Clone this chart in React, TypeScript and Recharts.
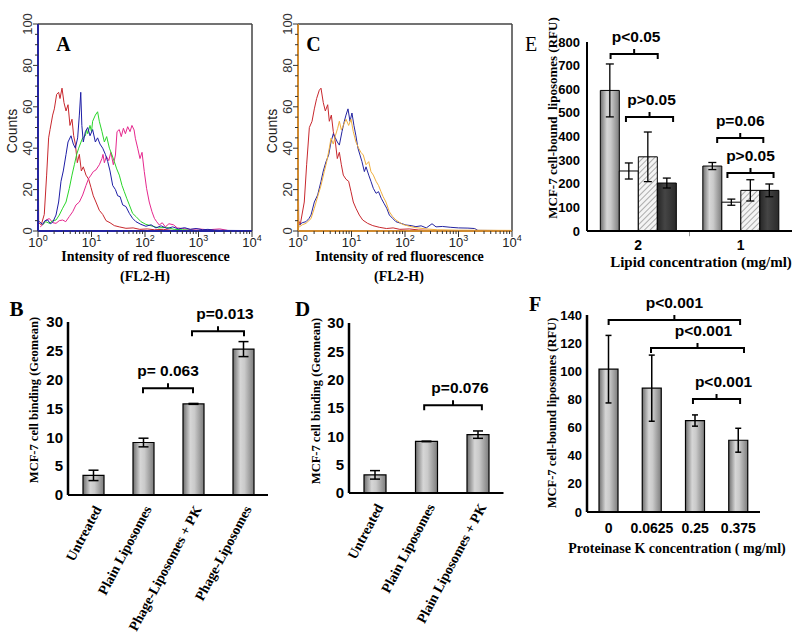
import React from 'react';
import { LineChart, Line, BarChart, Bar, XAxis, YAxis, ErrorBar, ReferenceLine } from 'recharts';

const SANS = '"Liberation Sans", Arial, Helvetica, sans-serif';
const SERIF = '"Liberation Serif", "Times New Roman", Times, serif';

// ---- A / C: flow cytometry histograms, [FL2-H intensity, counts]
const aRed = [[1,0],[1,56],[1.03,4],[1.15,3],[1.31,8],[1.45,27],[1.58,45],[1.68,49],[1.88,56],[2.02,59],[2.23,66],[2.43,67],[2.58,64],[2.81,69],[3.06,62],[3.34,58],[3.64,61],[3.96,51],[4.32,54],[4.64,46],[4.99,42],[5.43,33],[5.93,37],[6.46,29],[7.03,31],[7.89,27],[8.85,25],[9.79,21],[10.8,17],[12.1,14],[14,10],[16.2,8],[18.7,5],[22.2,4],[26.7,2.6],[33,2],[44,1.3],[60,1.5],[80,0.8],[110,1],[150,0.6],[220,0.8],[320,0.3],[500,0]];
const aBlue = [[1,4],[1.06,4.5],[1.22,3.2],[1.35,5],[1.52,5.3],[1.7,3.5],[1.88,4.2],[2.17,7.7],[2.43,14],[2.69,24],[2.97,29],[3.34,37],[3.64,43],[4.14,46],[4.57,42],[4.99,40],[5.51,45],[5.93,56],[6.3,67],[6.6,51],[7.03,43],[7.68,48],[8.5,50],[9.38,46],[10.5,49],[11.8,43],[13,45],[14.4,42],[16.2,40],[18.2,37],[20.1,33.5],[22.2,29],[24.9,22],[28,20],[30.9,17],[34.2,16.6],[38.3,12.6],[44,11.8],[51,8.5],[58.7,6.1],[67.7,4.5],[84,3.2],[104,2.3],[130,3],[160,1.5],[200,2.5],[260,1.2],[330,2],[420,1],[550,1.6],[700,0.8],[900,1.2],[1200,0.6],[1500,0.8],[2000,0.4],[3000,0.3],[10000,0.2]];
const aGreen = [[1.22,3],[1.4,4.5],[1.63,3.7],[1.9,5],[2.17,5.3],[2.5,7.7],[2.89,11],[3.34,14],[3.85,20.6],[4.32,27],[4.78,32],[5.28,37],[5.76,40],[6.37,43],[6.84,45],[7.68,46],[8.1,49],[8.5,47],[9.38,51],[10,48],[10.5,53],[11.8,56],[13,57.6],[14,53],[15.7,48],[17.4,43],[19.2,45.6],[21.6,40],[24.2,36.7],[26.7,33.5],[29.6,30],[33.1,27],[37.2,22],[41,19],[45.5,15.8],[51,12.6],[58.7,8.5],[67.7,7],[84,4.5],[104,3.2],[139,2.3],[180,1.5],[250,1.8],[350,0.8],[500,0.6],[800,0.3]];
const aMagenta = [[1.1,2],[1.22,3],[1.41,5.3],[1.63,6],[1.9,4],[2.17,3.7],[2.5,5],[2.89,5.3],[3.3,4.5],[3.85,7],[4.45,9.3],[5.13,12.6],[5.93,14],[6.84,17.4],[7.89,22],[8.85,25.4],[9.8,27],[10.8,28.7],[12.1,29.5],[14,32],[15.7,35],[16.4,37],[17.4,33],[19,36],[21,34],[23,38],[25.6,32],[28,36.7],[30,48],[33,49],[36,45.6],[39.5,49.6],[43,47],[47.5,50.4],[52.5,48],[57,51],[62.5,48.8],[66,44.8],[73,40],[80.6,35],[88,38],[97,28.7],[107,20.6],[120,14],[135,9.3],[150,6.1],[165,4.5],[185,2.9],[210,4],[240,2],[280,3.5],[340,3],[400,1.5],[500,1.2],[700,0.8],[1000,1],[1500,0.6],[2500,1],[3500,0.3]];

const cRed = [[1,0],[1,56],[1.03,5],[1.1,3],[1.31,14],[1.45,32],[1.63,50],[1.83,53],[2.02,59],[2.23,64],[2.5,68],[2.69,69],[2.97,62],[3.24,58],[3.59,61],[3.85,53],[4.2,56],[4.57,48],[4.99,43],[5.43,35],[5.93,38],[6.46,32],[7.03,27],[7.89,25],[8.85,24],[9.8,19],[10.8,14],[12.1,11],[14,7.7],[16.2,5.3],[20,3.7],[25,2.6],[33,1.8],[45,1.2],[60,1.5],[80,0.8],[120,1],[180,0.5],[300,0.3],[500,0]];
const cBlue = [[1,3],[1.06,3],[1.2,4],[1.41,4.5],[1.6,6],[1.75,7.7],[2.02,14],[2.33,17.4],[2.69,24],[2.97,29],[3.34,33.5],[3.74,36.7],[4.14,43],[4.57,47],[4.99,45],[5.43,43],[5.93,41.5],[6.64,48],[7.34,53],[7.89,56],[8.6,59],[9.38,53],[10.2,57],[11.1,51],[12.1,46],[13.2,40],[14.4,36.7],[15.7,33.5],[17.4,28.7],[18.7,31],[21,27],[23.1,24],[25.6,20.6],[28.8,18.2],[32,19],[36,15.8],[40.4,13.4],[45.5,11],[51,7.7],[58.7,6.1],[67.7,4.5],[84,3.7],[104,2.9],[130,2.6],[160,2.1],[200,2.5],[250,1.5],[320,3.5],[380,2],[500,2.2],[700,1.8],[1000,1.5],[1500,1.4],[2000,1.2],[2300,0.3],[10000,0.2]];
const cOrange = [[1,0],[1,40],[1.03,2],[1.06,2],[1.2,3],[1.41,3.7],[1.75,6],[2.02,11],[2.33,16.6],[2.69,22],[3.1,28.7],[3.44,33.5],[3.85,40],[4.14,44.8],[4.57,42],[4.99,46],[5.51,49.6],[5.93,53],[6.46,48.8],[7.03,51],[7.89,54],[8.85,51],[9.8,54],[10.8,48],[12.1,43],[13.6,40],[15,38],[16.6,36.7],[18.7,32],[21,33.5],[23.1,28.7],[25.6,27],[28.8,24],[32,22],[35.6,19],[39,16.6],[44,14],[51,9.3],[58.7,7],[67.7,5.3],[90,3.2],[120,2.3],[160,1.6],[250,1],[400,0.6],[1000,0.4],[10000,0.3]];

const histDecades = [1, 10, 100, 1000];
const histMultipliers = [1, 2, 3, 4, 5, 6, 7, 8, 9];
const logTicks = [...histDecades.flatMap((d) => histMultipliers.map((m) => m * d)), 10000];
const countTicks = [0, 5, 10, 15, 20, 25, 30, 35, 40, 45, 50, 55, 60, 65, 70, 75, 80, 85, 90, 95, 100];

// ---- B
const bCats = ['Untreated', 'Plain Liposomes', 'Phage-Liposomes + PK', 'Phage-Liposomes'];
const bMeans = [3.4, 9.1, 15.8, 25.3];
const bErrs = [0.9, 0.75, 0.08, 1.3];
const bTicks = [0, 5, 10, 15, 20, 25, 30];
const bBrackets = [
  { x1: 1, x2: 2, y: 18.5, text: 'p= 0.063', dx: 0 },
  { x1: 1.98, x2: 3.02, y: 28.4, text: 'p=0.013', dx: 7 },
];

// ---- D
const dCats = ['Untreated', 'Plain Liposomes', 'Plain Liposomes + PK'];
const dMeans = [3.2, 9.1, 10.3];
const dErrs = [0.75, 0.05, 0.65];
const dTicks = [0, 5, 10, 15, 20, 25, 30];
const dBrackets = [{ x1: 0.96, x2: 2.08, y: 15.5, text: 'p=0.076', dx: 7 }];

// ---- E
const eCats = ['2', '1'];
const eGray = [595, 275];
const eGrayErr = [112, 15];
const eWhite = [254, 122];
const eWhiteErr = [34, 13];
const eHatch = [314, 172];
const eHatchErr = [105, 45];
const eDark = [203, 172];
const eDarkErr = [21, 27];
const eTicks = [0, 100, 200, 300, 400, 500, 600, 700, 800];
const eBrackets = [
  { x1: -0.27, x2: 0.19, y: 749, text: 'p<0.05', dx: 2 },
  { x1: -0.12, x2: 0.34, y: 483, text: 'p>0.05', dx: 2 },
  { x1: 0.77, x2: 1.22, y: 394, text: 'p=0.06', dx: 0 },
  { x1: 0.87, x2: 1.32, y: 245, text: 'p>0.05', dx: 0 },
];

// ---- F
const fCats = ['0', '0.0625', '0.25', '0.375'];
const fMeans = [101.5, 88, 65, 51];
const fErrs = [24, 23.5, 4, 8.5];
const fTicks = [0, 20, 40, 60, 80, 100, 120, 140];
const fBrackets = [
  { x1: 0, x2: 3.04, y: 136.5, text: 'p<0.001', dx: 0 },
  { x1: 0.98, x2: 3.13, y: 116.5, text: 'p<0.001', dx: 6 },
  { x1: 1.95, x2: 3.04, y: 80.3, text: 'p<0.001', dx: 7 },
];

const toPts = (arr: number[][]) => arr.map(([x, y]) => ({ x, y }));

const LogTick = ({ x, y, payload }: any) => {
  const p = Math.log10(payload.value);
  const major = Math.abs(p - Math.round(p)) < 1e-6;
  return (
    <g>
      <line x1={x} x2={x} y1={y} y2={y + (major ? 6 : 3)} stroke="#333" strokeWidth={1} />
      {major && (
        <text x={x} y={y + 16} textAnchor="middle" fontFamily={SANS} fontSize={13} fill="#222">
          <tspan>10</tspan>
          <tspan dy={-6} fontSize={9}>{Math.round(p)}</tspan>
        </text>
      )}
    </g>
  );
};

const CountTick = ({ x, y, payload }: any) => {
  const major = payload.value % 20 === 0;
  return (
    <g>
      <line x1={x} x2={x - (major ? 5 : 3)} y1={y} y2={y} stroke="#333" strokeWidth={1} />
      {major && (
        <text transform={`translate(${x - 6},${y}) rotate(-90)`} textAnchor="middle" fontFamily={SANS} fontSize={13} fill="#333">
          {payload.value}
        </text>
      )}
    </g>
  );
};

const Histogram = ({ left, axisColor, curves }: { left: number; axisColor: string; curves: { pts: number[][]; color: string }[] }) => (
  <div style={{ position: 'absolute', left, top: 0 }}>
    <LineChart width={272} height={260} margin={{ top: 24, right: 20, left: 0, bottom: 0 }}>
      <XAxis type="number" dataKey="x" scale="log" domain={[1, 10000]} allowDataOverflow ticks={logTicks} interval={0}
        tick={<LogTick />} tickLine={false} tickSize={0} tickMargin={0} height={29}
        axisLine={{ stroke: axisColor, strokeWidth: 2 }} />
      <YAxis type="number" domain={[0, 100]} allowDataOverflow ticks={countTicks} interval={0}
        tick={<CountTick />} tickLine={false} tickSize={0} tickMargin={0} width={38}
        axisLine={{ stroke: axisColor, strokeWidth: 2 }} />
      <ReferenceLine y={100} stroke="#444" strokeWidth={1.5} ifOverflow="visible" />
      <ReferenceLine x={10000} stroke="#444" strokeWidth={1.5} ifOverflow="visible" />
      {curves.map((c, i) => (
        <Line key={i} data={toPts(c.pts)} dataKey="y" type="linear" stroke={c.color} strokeWidth={1}
          dot={false} activeDot={false} isAnimationActive={false} />
      ))}
    </LineChart>
  </div>
);

const BracketShape = (props: any) => {
  const { x1, y1, x2, text, dx = 0 } = props;
  const xm = (x1 + x2) / 2;
  return (
    <g>
      <path d={`M${x1},${y1 + 5}V${y1}H${x2}V${y1 + 5}M${xm},${y1}V${y1 - 5}`} fill="none" stroke="#000" strokeWidth={2} />
      <text x={xm + dx} y={y1 - 12} textAnchor="middle" fontFamily={SANS} fontWeight={700} fontSize={15.5} fill="#000">
        {text}
      </text>
    </g>
  );
};

const brackets = (list: { x1: number; x2: number; y: number; text: string; dx: number }[]) =>
  list.map((b, i) => (
    <ReferenceLine key={`br${i}`} xAxisId="n" ifOverflow="visible"
      segment={[{ x: b.x1, y: b.y }, { x: b.x2, y: b.y }]}
      shape={(p: any) => <BracketShape {...p} text={b.text} dx={b.dx} />} />
  ));

const SlantTick = ({ x, y, payload }: any) => (
  <text x={x + 9} y={y + 14} transform={`rotate(-62 ${x + 9} ${y + 14})`} textAnchor="end"
    fontFamily={SERIF} fontWeight={700} fontSize={14} fill="#000">
    {payload.value}
  </text>
);

const GrayGrad = ({ id }: { id: string }) => (
  <linearGradient id={id} x1="0" y1="0" x2="1" y2="0">
    <stop offset="0%" stopColor="#6e6e6e" />
    <stop offset="35%" stopColor="#d6d6d6" />
    <stop offset="55%" stopColor="#cacaca" />
    <stop offset="100%" stopColor="#7c7c7c" />
  </linearGradient>
);

const yTickStyle = (size: number) => ({ fontFamily: SANS, fontWeight: 700, fontSize: size, fill: '#000' });

type SingleProps = {
  left: number; top: number; width: number; height: number; marginTop: number; marginRight: number;
  yWidth: number; xHeight: number; cats: string[]; means: number[]; errs: number[]; ticks: number[];
  barSize: number; capWidth: number; list: any[]; slant: boolean; tickSize: number; gradId: string; xMargin?: number;
};

const SingleBars = (p: SingleProps) => {
  const rows = p.cats.map((c, i) => ({ cat: c, pos: i, mean: p.means[i], err: p.errs[i] }));
  const yMax = p.ticks[p.ticks.length - 1];
  return (
    <div style={{ position: 'absolute', left: p.left, top: p.top }}>
      <BarChart width={p.width} height={p.height} data={rows} barSize={p.barSize}
        margin={{ top: p.marginTop, right: p.marginRight, left: 0, bottom: 0 }}>
        <defs><GrayGrad id={p.gradId} /></defs>
        <XAxis dataKey="cat" interval={0} height={p.xHeight} tickLine={false} tickSize={0} tickMargin={p.xMargin ?? 0}
          axisLine={{ stroke: '#000', strokeWidth: 2 }}
          tick={p.slant ? <SlantTick /> : yTickStyle(14)} />
        <XAxis xAxisId="n" dataKey="pos" type="number" domain={[-0.5, p.cats.length - 0.5]} allowDataOverflow hide />
        <YAxis domain={[0, yMax]} ticks={p.ticks} interval={0} width={p.yWidth} tickLine={false} tickSize={0}
          tickMargin={5} axisLine={{ stroke: '#000', strokeWidth: 2.5 }} tick={yTickStyle(p.tickSize)} />
        <Bar dataKey="mean" fill={`url(#${p.gradId})`} stroke="#000" strokeWidth={1.2} isAnimationActive={false}>
          <ErrorBar dataKey="err" direction="y" width={p.capWidth} stroke="#000" strokeWidth={1.5} />
        </Bar>
        {brackets(p.list)}
      </BarChart>
    </div>
  );
};

const eRows = eCats.map((c, i) => ({
  cat: c, pos: i, gray: eGray[i], grayErr: eGrayErr[i], white: eWhite[i], whiteErr: eWhiteErr[i],
  hatch: eHatch[i], hatchErr: eHatchErr[i], dark: eDark[i], darkErr: eDarkErr[i],
}));

const PanelE = () => (
  <div style={{ position: 'absolute', left: 520, top: 20 }}>
    <BarChart width={280} height={240} data={eRows} barCategoryGap="13%" barGap={0}
      margin={{ top: 22, right: 8, left: 0, bottom: 0 }}>
      <defs>
        <GrayGrad id="eGrayGrad" />
        <linearGradient id="eDarkGrad" x1="0" y1="0" x2="1" y2="0">
          <stop offset="0%" stopColor="#262626" />
          <stop offset="40%" stopColor="#454545" />
          <stop offset="100%" stopColor="#2a2a2a" />
        </linearGradient>
        <pattern id="eHatch" patternUnits="userSpaceOnUse" width="4" height="4" patternTransform="rotate(45)">
          <rect width="4" height="4" fill="#f4f4f4" />
          <line x1="0" y1="0" x2="0" y2="4" stroke="#9a9a9a" strokeWidth="1.6" />
        </pattern>
      </defs>
      <XAxis dataKey="cat" interval={0} height={29} tickLine={false} tickSize={0} tickMargin={9}
        axisLine={{ stroke: '#000', strokeWidth: 2 }} tick={yTickStyle(14)} />
      <XAxis xAxisId="n" dataKey="pos" type="number" domain={[-0.5, 1.5]} allowDataOverflow hide />
      <YAxis domain={[0, 800]} ticks={eTicks} interval={0} width={67} tickLine={false} tickSize={0} tickMargin={7}
        axisLine={{ stroke: '#000', strokeWidth: 2 }} tick={yTickStyle(13)} />
      <Bar dataKey="gray" fill="url(#eGrayGrad)" stroke="#000" strokeWidth={1} isAnimationActive={false}>
        <ErrorBar dataKey="grayErr" direction="y" width={4} stroke="#000" strokeWidth={1.3} />
      </Bar>
      <Bar dataKey="white" fill="#fff" stroke="#000" strokeWidth={1} isAnimationActive={false}>
        <ErrorBar dataKey="whiteErr" direction="y" width={4} stroke="#000" strokeWidth={1.3} />
      </Bar>
      <Bar dataKey="hatch" fill="url(#eHatch)" stroke="#000" strokeWidth={1} isAnimationActive={false}>
        <ErrorBar dataKey="hatchErr" direction="y" width={4} stroke="#000" strokeWidth={1.3} />
      </Bar>
      <Bar dataKey="dark" fill="url(#eDarkGrad)" stroke="#000" strokeWidth={1} isAnimationActive={false}>
        <ErrorBar dataKey="darkErr" direction="y" width={4} stroke="#000" strokeWidth={1.3} />
      </Bar>
      <ReferenceLine xAxisId="n" ifOverflow="visible" stroke="#999" strokeWidth={1}
        segment={[{ x: 0.5, y: 0 }, { x: 0.5, y: -22 }]} />
      {brackets(eBrackets)}
    </BarChart>
  </div>
);

const Txt = ({ x, y, size, bold = true, serif = true, rotate = 0, color = '#000', children }: any) => (
  <div style={{
    position: 'absolute', left: x, top: y, transform: `translate(-50%, -50%) rotate(${rotate}deg)`,
    fontFamily: serif ? SERIF : SANS, fontWeight: bold ? 700 : 400, fontSize: size, lineHeight: 1,
    whiteSpace: 'pre', color,
  }}>{children}</div>
);

export default function App() {
  return (
    <div style={{ position: 'absolute', left: 0, top: 0, width: 800, height: 643, background: '#fff', overflow: 'hidden' }}>
      <Histogram left={0} axisColor="#2424a0" curves={[
        { pts: aRed, color: '#c8282e' },
        { pts: aMagenta, color: '#e6288e' },
        { pts: aGreen, color: '#2ad62a' },
        { pts: aBlue, color: '#1e1ea6' },
      ]} />
      <Histogram left={260} axisColor="#cf8a30" curves={[
        { pts: cRed, color: '#c8282e' },
        { pts: cBlue, color: '#2424a0' },
        { pts: cOrange, color: '#f0b040' },
      ]} />
      <PanelE />
      <SingleBars left={0} top={300} width={280} height={343} marginTop={22} marginRight={12} yWidth={68} xHeight={148}
        cats={bCats} means={bMeans} errs={bErrs} ticks={bTicks} barSize={21} capWidth={5} list={bBrackets}
        slant tickSize={15} gradId="bGrad" />
      <SingleBars left={260} top={300} width={260} height={343} marginTop={23} marginRight={16.5} yWidth={89} xHeight={150}
        cats={dCats} means={dMeans} errs={dErrs} ticks={dTicks} barSize={22} capWidth={5} list={dBrackets}
        slant tickSize={15} gradId="dGrad" />
      <SingleBars left={520} top={295} width={280} height={260} marginTop={20} marginRight={40} yWidth={67} xHeight={43}
        cats={fCats} means={fMeans} errs={fErrs} ticks={fTicks} barSize={19} capWidth={3} list={fBrackets}
        slant={false} tickSize={13} gradId="fGrad" xMargin={11} />

      <Txt x={63.5} y={44} size={20}>A</Txt>
      <Txt x={313.5} y={44} size={20}>C</Txt>
      <Txt x={531} y={44} size={20} bold={false}>E</Txt>
      <Txt x={16.5} y={309} size={21}>B</Txt>
      <Txt x={302.5} y={309} size={21}>D</Txt>
      <Txt x={535} y={304} size={20}>F</Txt>

      <Txt x={12} y={131} size={14} bold={false} serif={false} rotate={-90} color="#222">Counts</Txt>
      <Txt x={272} y={131} size={14} bold={false} serif={false} rotate={-90} color="#222">Counts</Txt>
      <Txt x={145.5} y={257} size={14}>Intensity of red fluorescence</Txt>
      <Txt x={145} y={277} size={14}>(FL2-H)</Txt>
      <Txt x={399.5} y={257} size={14}>Intensity of red fluorescence</Txt>
      <Txt x={399} y={277} size={14}>(FL2-H)</Txt>

      <Txt x={552} y={118} size={13} rotate={-90}>MCF-7 cell-bound  liposomes (RFU)</Txt>
      <Txt x={701} y={262} size={15}>Lipid concentration (mg/ml)</Txt>
      <Txt x={34} y={400} size={12.5} rotate={-90}>MCF-7 cell binding (Geomean)</Txt>
      <Txt x={316} y={401} size={12.5} rotate={-90}>MCF-7 cell binding (Geomean)</Txt>
      <Txt x={552} y={413} size={12.5} rotate={-90}>MCF-7 cell-bound liposomes (RFU)</Txt>
      <Txt x={677} y={549} size={14}>Proteinase K concentration ( mg/ml)</Txt>
    </div>
  );
}
